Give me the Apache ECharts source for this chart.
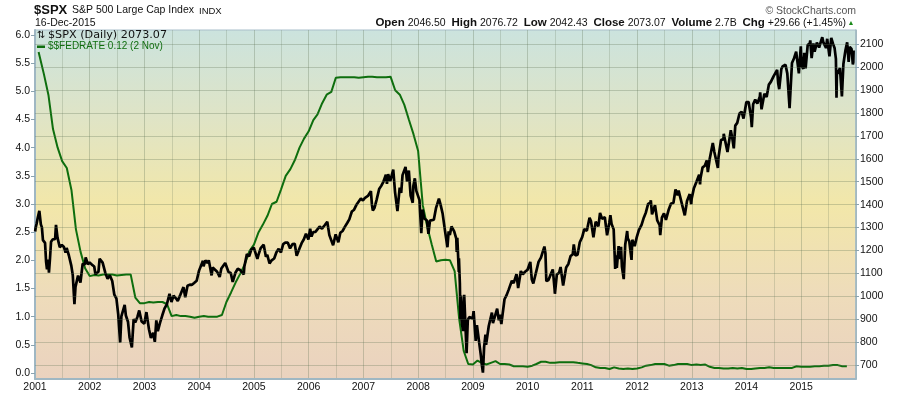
<!DOCTYPE html>
<html>
<head>
<meta charset="utf-8">
<script src="https://cdn.jsdelivr.net/npm/echarts@6/dist/echarts.min.js"></script>
<style>html,body{margin:0;padding:0;background:#fff}#c{width:900px;height:396px}</style>
</head>
<body>
<div id="c"></div>
<script>
// ---------- DATA ----------
const spxDates = [
 '2001-01-02','2001-01-05','2001-01-12','2001-01-19','2001-01-30','2001-02-09','2001-02-16','2001-02-23','2001-02-28','2001-03-09','2001-03-16','2001-03-22','2001-03-30','2001-04-04','2001-04-11','2001-04-18','2001-04-30','2001-05-15','2001-05-21','2001-05-31','2001-06-15','2001-06-29','2001-07-13','2001-07-24','2001-07-31','2001-08-15','2001-08-31','2001-09-10','2001-09-21','2001-09-28','2001-10-15','2001-10-31','2001-11-15','2001-11-30','2001-12-05','2001-12-20','2001-12-31',
 '2002-01-15','2002-01-31','2002-02-08','2002-02-20','2002-02-28','2002-03-08','2002-03-19','2002-03-28','2002-04-15','2002-04-30','2002-05-15','2002-05-31','2002-06-14','2002-06-28','2002-07-10','2002-07-23','2002-07-31','2002-08-22','2002-08-30','2002-09-13','2002-09-24','2002-09-30','2002-10-09','2002-10-21','2002-10-31','2002-11-15','2002-11-27','2002-12-13','2002-12-31',
 '2003-01-14','2003-01-31','2003-02-13','2003-02-28','2003-03-11','2003-03-21','2003-03-31','2003-04-15','2003-04-30','2003-05-15','2003-05-30','2003-06-17','2003-06-30','2003-07-14','2003-07-31','2003-08-11','2003-08-29','2003-09-18','2003-09-30','2003-10-15','2003-10-31','2003-11-14','2003-11-28','2003-12-15','2003-12-31',
 '2004-01-26','2004-01-30','2004-02-11','2004-02-27','2004-03-05','2004-03-24','2004-03-31','2004-04-13','2004-04-30','2004-05-17','2004-05-28','2004-06-23','2004-06-30','2004-07-15','2004-07-30','2004-08-12','2004-08-31','2004-09-15','2004-09-30','2004-10-25','2004-10-29','2004-11-15','2004-11-30','2004-12-15','2004-12-31',
 '2005-01-14','2005-01-24','2005-01-31','2005-02-15','2005-02-28','2005-03-07','2005-03-22','2005-03-31','2005-04-15','2005-04-20','2005-04-29','2005-05-16','2005-05-31','2005-06-15','2005-06-30','2005-07-15','2005-07-29','2005-08-15','2005-08-30','2005-09-15','2005-09-30','2005-10-13','2005-10-31','2005-11-15','2005-11-30','2005-12-14','2005-12-30',
 '2006-01-11','2006-01-20','2006-01-31','2006-02-15','2006-02-28','2006-03-15','2006-03-31','2006-04-19','2006-04-28','2006-05-05','2006-05-19','2006-05-31','2006-06-13','2006-06-30','2006-07-18','2006-07-31','2006-08-15','2006-08-31','2006-09-15','2006-09-29','2006-10-16','2006-10-31','2006-11-17','2006-11-30','2006-12-15','2006-12-29',
 '2007-01-12','2007-01-31','2007-02-20','2007-02-27','2007-03-05','2007-03-16','2007-03-30','2007-04-16','2007-04-30','2007-05-15','2007-05-31','2007-06-07','2007-06-15','2007-06-29','2007-07-19','2007-07-31','2007-08-09','2007-08-16','2007-08-31','2007-09-10','2007-09-19','2007-09-28','2007-10-09','2007-10-19','2007-10-31','2007-11-12','2007-11-26','2007-11-30','2007-12-10','2007-12-20','2007-12-31',
 '2008-01-10','2008-01-22','2008-01-31','2008-02-11','2008-02-29','2008-03-10','2008-03-20','2008-03-31','2008-04-15','2008-04-30','2008-05-19','2008-05-30','2008-06-13','2008-06-30','2008-07-15','2008-07-23','2008-07-31','2008-08-11','2008-08-29','2008-09-12','2008-09-15','2008-09-19','2008-09-29','2008-09-30','2008-10-06','2008-10-10','2008-10-13','2008-10-15','2008-10-27','2008-10-31','2008-11-04','2008-11-20','2008-11-28','2008-12-08','2008-12-16','2008-12-31',
 '2009-01-06','2009-01-20','2009-01-28','2009-02-09','2009-02-23','2009-03-02','2009-03-09','2009-03-17','2009-03-26','2009-03-30','2009-04-17','2009-04-30','2009-05-08','2009-05-15','2009-06-12','2009-06-23','2009-06-30','2009-07-10','2009-07-31','2009-08-14','2009-08-28','2009-09-18','2009-09-30','2009-10-19','2009-10-30','2009-11-17','2009-11-30','2009-12-15','2009-12-31',
 '2010-01-19','2010-01-29','2010-02-08','2010-02-26','2010-03-15','2010-03-31','2010-04-23','2010-04-30','2010-05-06','2010-05-20','2010-05-31','2010-06-18','2010-06-30','2010-07-02','2010-07-15','2010-07-30','2010-08-09','2010-08-26','2010-08-31','2010-09-15','2010-09-30','2010-10-15','2010-10-29','2010-11-05','2010-11-16','2010-11-30','2010-12-15','2010-12-31',
 '2011-01-14','2011-01-31','2011-02-18','2011-02-28','2011-03-16','2011-03-31','2011-04-18','2011-04-29','2011-05-13','2011-05-31','2011-06-15','2011-06-30','2011-07-07','2011-07-15','2011-07-29','2011-08-08','2011-08-12','2011-08-19','2011-08-31','2011-09-12','2011-09-16','2011-09-22','2011-09-30','2011-10-04','2011-10-14','2011-10-27','2011-10-31','2011-11-10','2011-11-25','2011-11-30','2011-12-16','2011-12-30',
 '2012-01-13','2012-01-31','2012-02-15','2012-02-29','2012-03-15','2012-03-30','2012-04-02','2012-04-10','2012-04-30','2012-05-15','2012-05-31','2012-06-04','2012-06-15','2012-06-29','2012-07-12','2012-07-31','2012-08-15','2012-08-31','2012-09-14','2012-09-28','2012-10-05','2012-10-23','2012-10-31','2012-11-15','2012-11-30','2012-12-18','2012-12-28','2012-12-31',
 '2013-01-15','2013-01-31','2013-02-19','2013-02-25','2013-02-28','2013-03-14','2013-03-28','2013-04-11','2013-04-18','2013-04-30','2013-05-21','2013-05-31','2013-06-24','2013-06-28','2013-07-15','2013-07-31','2013-08-02','2013-08-27','2013-08-30','2013-09-18','2013-09-30','2013-10-08','2013-10-18','2013-10-31','2013-11-15','2013-11-29','2013-12-12','2013-12-31',
 '2014-01-15','2014-01-31','2014-02-05','2014-02-14','2014-02-28','2014-03-14','2014-03-31','2014-04-02','2014-04-11','2014-04-30','2014-05-15','2014-05-30','2014-06-13','2014-06-30','2014-07-24','2014-07-31','2014-08-07','2014-08-21','2014-08-29','2014-09-18','2014-09-30','2014-10-08','2014-10-15','2014-10-31','2014-11-14','2014-11-28','2014-12-05','2014-12-16','2014-12-29','2014-12-31',
 '2015-01-06','2015-01-15','2015-01-22','2015-01-30','2015-02-13','2015-02-27','2015-03-02','2015-03-11','2015-03-23','2015-03-31','2015-04-15','2015-04-30','2015-05-21','2015-05-29','2015-06-15','2015-06-23','2015-07-08','2015-07-20','2015-07-31','2015-08-11','2015-08-20','2015-08-24','2015-08-27','2015-08-31','2015-09-16','2015-09-29','2015-10-09','2015-10-23','2015-11-03','2015-11-13','2015-11-20','2015-12-02','2015-12-11','2015-12-14','2015-12-16'
];
const spxValues = [
 1283,1298,1318,1342,1373,1314,1301,1245,1240,1233,1150,1118,1160,1103,1165,1238,1249,1249,1312,1256,1214,1224,1215,1191,1211,1178,1134,1092,966,1041,1090,1060,1142,1139,1170,1139,1148,
 1138,1130,1096,1098,1107,1164,1170,1147,1102,1077,1092,1067,1007,990,921,798,912,962,916,889,819,815,777,900,886,910,938,890,880,
 931,856,818,841,801,895,848,885,917,947,964,1011,975,1003,990,980,1008,1040,996,1046,1051,1050,1058,1068,1112,
 1155,1131,1157,1145,1157,1091,1126,1130,1107,1084,1121,1145,1141,1106,1102,1063,1104,1120,1115,1095,1130,1184,1174,1205,1212,
 1184,1163,1181,1210,1204,1225,1172,1181,1143,1138,1157,1165,1192,1207,1191,1228,1234,1234,1209,1228,1229,1177,1207,1232,1249,1273,1248,
 1295,1261,1280,1281,1281,1304,1295,1311,1311,1325,1267,1270,1223,1270,1236,1277,1285,1304,1320,1336,1370,1378,1401,1401,1427,1418,
 1430,1438,1459,1399,1374,1386,1421,1468,1482,1501,1531,1491,1533,1503,1553,1455,1453,1372,1474,1451,1529,1527,1565,1501,1549,1439,1408,1481,1515,1460,1468,
 1420,1275,1379,1340,1331,1273,1330,1323,1334,1386,1426,1400,1360,1280,1214,1283,1267,1305,1283,1252,1193,1255,1106,1166,1057,899,1003,908,848,969,1006,752,896,909,913,903,
 935,805,874,870,743,700,667,778,833,788,870,873,929,883,946,895,919,879,987,1005,1029,1068,1057,1097,1036,1110,1096,1107,1115,
 1150,1074,1056,1104,1150,1169,1217,1187,1066,1071,1089,1117,1031,1011,1096,1102,1128,1047,1049,1126,1141,1176,1183,1226,1178,1181,1236,1258,
 1293,1286,1343,1327,1257,1326,1305,1364,1338,1345,1266,1321,1354,1316,1292,1119,1179,1124,1219,1162,1216,1130,1131,1075,1225,1285,1253,1240,1159,1247,1219,1258,
 1289,1312,1343,1366,1403,1408,1419,1358,1398,1331,1310,1267,1343,1362,1334,1379,1405,1407,1466,1441,1461,1413,1412,1353,1416,1446,1402,1426,
 1472,1498,1531,1488,1515,1563,1569,1593,1542,1598,1669,1631,1560,1606,1682,1686,1709,1630,1633,1725,1682,1646,1745,1757,1798,1806,1776,1848,
 1848,1783,1738,1838,1859,1841,1872,1890,1816,1884,1870,1924,1937,1960,1988,1931,1904,1992,2003,2011,1972,1969,1821,2018,2039,2068,2075,1973,2091,2059,
 2003,1993,2063,1995,2097,2105,2117,2040,2104,2068,2107,2086,2131,2107,2084,2124,2047,2128,2104,2084,2036,1867,1988,1972,1996,1872,2014,2075,2109,2023,2089,2080,2012,2022,2073
];
const fedFirstDate = '2001-01-25';
const fedValues = [
 5.70,
 5.31,4.93,4.33,4.00,3.76,3.64,3.25,2.55,2.15,1.86,
 1.72,1.74,1.73,1.75,1.75,1.75,1.73,1.74,1.75,1.75,1.34,1.24,
 1.24,1.26,1.25,1.26,1.26,1.22,1.01,1.03,1.01,1.01,1.00,0.98,
 1.00,1.01,1.00,1.00,1.00,1.03,1.26,1.43,1.61,1.76,1.93,2.16,
 2.28,2.50,2.63,2.79,3.00,3.04,3.26,3.50,3.62,3.78,4.00,4.16,
 4.29,4.49,4.59,4.79,4.94,4.99,5.24,5.25,5.25,5.25,5.25,5.24,
 5.25,5.26,5.26,5.25,5.25,5.25,5.26,5.02,4.94,4.76,4.49,4.24,
 3.94,2.98,2.61,2.28,1.98,2.00,2.01,2.00,1.81,0.97,0.39,0.16,
 0.15,0.22,0.18,0.15,0.18,0.21,0.16,0.16,0.15,0.12,0.12,0.12,
 0.11,0.13,0.16,0.20,0.20,0.18,0.18,0.19,0.19,0.19,0.19,0.18,
 0.17,0.16,0.14,0.10,0.09,0.09,0.07,0.10,0.08,0.07,0.08,0.07,
 0.08,0.10,0.13,0.14,0.16,0.16,0.16,0.13,0.14,0.16,0.16,0.16,
 0.14,0.15,0.14,0.15,0.11,0.09,0.09,0.08,0.08,0.09,0.08,0.09,
 0.07,0.07,0.08,0.09,0.09,0.10,0.09,0.09,0.09,0.09,0.09,0.12,
 0.11,0.11,0.11,0.12,0.12,0.13,0.13,0.14,0.14,0.12,0.12
];
const leftTicks = [0,0.5,1,1.5,2,2.5,3,3.5,4,4.5,5,5.5,6];
const rightTicks = [700,800,900,1000,1100,1200,1300,1400,1500,1600,1700,1800,1900,2000,2100];

// ---------- BUILD ----------
function toYear(s){
  const p = s.split('-').map(Number);
  const a = Date.UTC(p[0],0,1), b = Date.UTC(p[0]+1,0,1);
  return p[0] + (Date.UTC(p[0],p[1]-1,p[2]) - a)/(b - a);
}
if (spxDates.length !== spxValues.length) throw new Error('spx length mismatch ' + spxDates.length + ' ' + spxValues.length);
const fedDates = [fedFirstDate];
for (let y = 2001, m = 3; fedDates.length < fedValues.length; ) {
  fedDates.push(y + '-' + String(m).padStart(2,'0') + '-01');
  m++; if (m > 12) { m = 1; y++; }
}
const spxData = spxDates.map((d,i)=>[toYear(d), spxValues[i]]);
const fedData = fedDates.map((d,i)=>[toYear(d), fedValues[i]]);

const chart = echarts.init(document.getElementById('c'), null, {renderer:'canvas'});
const FONT = '"Liberation Sans", Arial, sans-serif';
const gridColor = 'rgba(95,115,85,0.30)';
const option = {
  animation: false,
  backgroundColor: '#ffffff',
  grid: {
    left: 35, right: 44, top: 30, bottom: 17, show: true,
    borderColor: '#a9bfca', borderWidth: 1,
    backgroundColor: new echarts.graphic.LinearGradient(0,0,0,1,[
      {offset:0, color:'#cbe3de'},
      {offset:0.25, color:'#dfe4c6'},
      {offset:0.5, color:'#f2e7a9'},
      {offset:0.75, color:'#eedcba'},
      {offset:1, color:'#ead2bf'}
    ])
  },
  xAxis: {
    type: 'value', min: 2001, max: 2016, interval: 1,
    axisLine: {show: true, onZero: false, lineStyle: {color: '#9fb7c3', width: 2}},
    axisTick: {show: false},
    axisLabel: {formatter: v => String(v), color: '#111', fontSize: 10.5, fontFamily: FONT, margin: 3, showMaxLabel: false},
    splitLine: {show: true, lineStyle: {color: gridColor, width: 1}},
    minorTick: {show: false, splitNumber: 2},
    minorSplitLine: {show: true, lineStyle: {color: 'rgba(95,115,85,0.22)', width: 1}}
  },
  yAxis: [
    {
      type: 'value', position: 'left', min: -0.1065, max: 6.0888,
      axisLine: {show: true, onZero: false, lineStyle: {color: '#9fb7c3', width: 2}},
      axisTick: {show: true, customValues: leftTicks, length: 4, lineStyle: {color: '#8aa3b0'}},
      axisLabel: {customValues: leftTicks, formatter: v => v.toFixed(1), color: '#111', fontSize: 10.5, fontFamily: FONT, margin: 5},
      splitLine: {show: false}
    },
    {
      type: 'value', position: 'right', min: 638.9, max: 2162.4,
      axisLine: {show: true, onZero: false, lineStyle: {color: '#9fb7c3', width: 1.5}},
      axisTick: {show: true, customValues: rightTicks, length: 3, lineStyle: {color: '#8aa3b0'}},
      axisLabel: {customValues: rightTicks, formatter: v => String(v), color: '#111', fontSize: 10.5, fontFamily: FONT, margin: 4},
      splitLine: {show: false}
    }
  ],
  series: [
    {
      name: 'grid', type: 'line', yAxisIndex: 1, data: [], z: 1, silent: true,
      markLine: {
        silent: true, symbol: 'none', label: {show: false},
        lineStyle: {color: gridColor, type: 'solid', width: 1},
        data: rightTicks.map(v => ({yAxis: v}))
      }
    },
    {
      name: '$$FEDRATE', type: 'line', yAxisIndex: 0, data: fedData, showSymbol: false, z: 2,
      lineStyle: {color: '#0e6e0e', width: 2}
    },
    {
      name: '$SPX', type: 'line', yAxisIndex: 1, data: spxData, showSymbol: false, z: 3,
      lineStyle: {color: '#000000', width: 2.7}
    }
  ],
  graphic: [
    {type:'text', x:34, y:10, style:{text:'$SPX', font:'bold 13px ' + FONT, fill:'#111', verticalAlign:'middle', textVerticalAlign:'middle'}},
    {type:'text', x:72, y:10.5, style:{text:'S&P 500 Large Cap Index', font:'10.5px ' + FONT, fill:'#111', verticalAlign:'middle', textVerticalAlign:'middle'}},
    {type:'text', x:199, y:11, style:{text:'INDX', font:'9.5px ' + FONT, fill:'#111', verticalAlign:'middle', textVerticalAlign:'middle'}},
    {type:'text', x:35, y:23, style:{text:'16-Dec-2015', font:'10.5px ' + FONT, fill:'#111', verticalAlign:'middle', textVerticalAlign:'middle'}},
    {type:'text', x:846, y:23, style:{
      text:'{b|Open} 2046.50  {b|High} 2076.72  {b|Low} 2042.43  {b|Close} 2073.07  {b|Volume} 2.7B  {b|Chg} +29.66 (+1.45%)',
      fontSize:10.5, fontFamily:FONT, fill:'#111', align:'right', textAlign:'right', verticalAlign:'middle', textVerticalAlign:'middle',
      rich:{b:{fontWeight:'bold', fontSize:11.5, fontFamily:FONT, fill:'#111'}}
    }},
    {type:'text', x:851, y:23, style:{text:'\u25B2', font:'7px ' + FONT, fill:'#1a8a1a', align:'center', textAlign:'center', verticalAlign:'middle', textVerticalAlign:'middle'}},
    {type:'text', x:856, y:11, style:{text:'\u00A9 StockCharts.com', font:'10.5px ' + FONT, fill:'#555', align:'right', textAlign:'right', verticalAlign:'middle', textVerticalAlign:'middle'}},
    {type:'text', x:37, y:35, style:{text:'\u21C5', font:'10px "DejaVu Sans"', fill:'#111', verticalAlign:'middle', textVerticalAlign:'middle'}},
    {type:'text', x:48, y:35, style:{text:'$SPX (Daily) 2073.07', font:'11.2px "DejaVu Sans"', fill:'#111', verticalAlign:'middle', textVerticalAlign:'middle'}},
    {type:'rect', shape:{x:37, y:45.5, width:8, height:2.5}, style:{fill:'#0e6e0e'}},
    {type:'text', x:48, y:46.5, style:{text:'$$FEDRATE 0.12 (2 Nov)', font:'10px ' + FONT, fill:'#0e6e0e', verticalAlign:'middle', textVerticalAlign:'middle'}}
  ]
};
chart.setOption(option);
</script>
</body>
</html>
